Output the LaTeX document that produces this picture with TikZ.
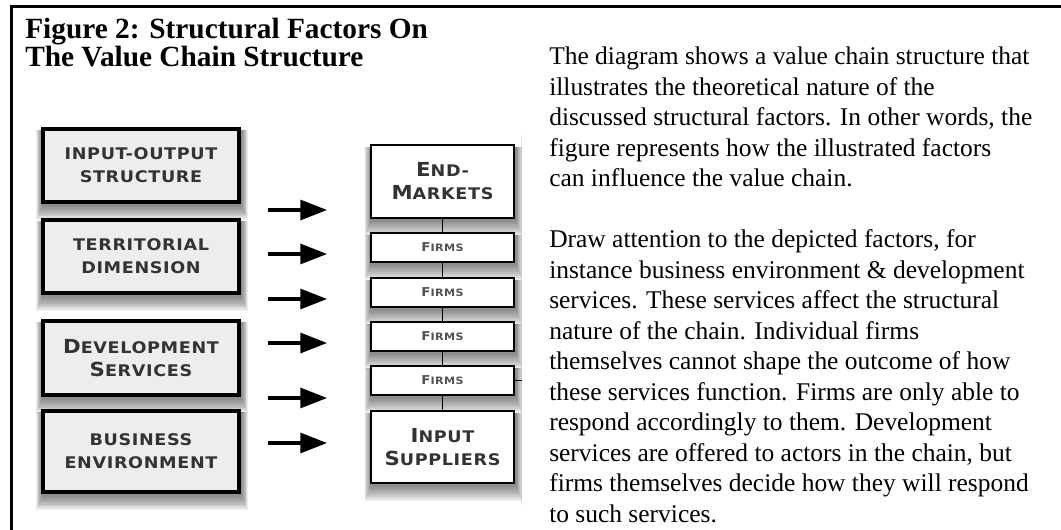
\documentclass[tikz,border=0pt]{standalone}
\usepackage{fontspec}
\setmainfont{Liberation Serif}
\newfontfamily\cpfont{DejaVu Sans}[FakeStretch=1.1,LetterSpace=4]
\usetikzlibrary{arrows.meta,calc}
\pgfdeclarelayer{bg}
\pgfsetlayers{bg,main}
\definecolor{boxtext}{HTML}{333333}
\definecolor{lfill}{HTML}{EDEDED}
\newcommand\Lc[1]{{\fontsize{14.5}{17.3}\selectfont #1}}
\newcommand\Lf[1]{{\fontsize{9.2}{10}\selectfont #1}}
\begin{document}
\begin{tikzpicture}[x=0.75pt,y=-0.75pt,
  frame/.style={line width=1.9pt, line cap=rect},
  lbox/.style={draw=black, line width=2.4pt, fill=lfill, inner sep=0pt,
    minimum width=147pt, align=center, text=boxtext,
    font=\cpfont\bfseries\fontsize{12}{17.3}\selectfont},
  rbox/.style={draw=black, line width=1.4pt, fill=white, inner sep=0pt,
    minimum width=107.25pt, align=center, text=boxtext,
    font=\cpfont\bfseries\fontsize{12}{17.3}\selectfont},
  fbox/.style={rbox, minimum height=21.75pt, text=boxtext!85!white,
    font=\cpfont\bfseries\fontsize{7.6}{9}\selectfont},
  link/.style={line width=1.4pt},
  arr/.style={line width=2.3pt, -{Triangle[length=20pt,width=15pt]}},
  title/.style={anchor=base west, inner sep=0pt, font=\bfseries\fontsize{22}{20}\selectfont},
  body/.style={anchor=base west, inner sep=0pt, font=\fontsize{19.1}{22.9}\selectfont}]
\useasboundingbox (0,0) rectangle (1061,530);

% frame
\draw[frame] (11.3,530) -- (11.3,6.5) -- (1061,6.5);

% title
\node[title] (t1) at (25,39) {Figure 2: Structural Factors On};
\node[title] (t2) at (25,67) {The Value Chain Structure};

% left factor boxes
\node[lbox, minimum height=54.75pt] (io) at (141,165.5) {INPUT-OUTPUT\\STRUCTURE};
\node[lbox, minimum height=54.75pt] (te) at (141,256.5) {TERRITORIAL\\DIMENSION};
\node[lbox, minimum height=55.5pt]  (dv) at (141,358) {\Lc{D}EVELOPMENT\\\Lc{S}ERVICES};
\node[lbox, minimum height=60.75pt] (bu) at (141,451.5) {BUSINESS\\ENVIRONMENT};

% value chain
\node[rbox, minimum height=54.75pt] (em) at (442.5,181.5) {\Lc{E}ND-\\\Lc{M}ARKETS};
\node[fbox] (f1) at (442.5,247.5) {\Lf{F}IRMS};
\node[fbox] (f2) at (442.5,292.5) {\Lf{F}IRMS};
\node[fbox] (f3) at (442.5,336.5) {\Lf{F}IRMS};
\node[fbox] (f4) at (442.5,380.5) {\Lf{F}IRMS};
\node[rbox, minimum height=54pt] (is) at (442.5,447) {\Lc{I}NPUT\\\Lc{S}UPPLIERS};

\draw[link] (em) -- (f1);
\draw[link] (f1) -- (f2);
\draw[link] (f2) -- (f3);
\draw[link] (f3) -- (f4);
\draw[link] (f4) -- (is);
\coordinate (stub) at (522,380.5);
\draw[link] (f4.east) -- (stub);

% arrows
\foreach \yy [count=\i] in {210,254,299,343,398,443}{
  \coordinate (as\i) at (268,\yy);
  \coordinate (ae\i) at (327,\yy);
  \draw[arr] (as\i) -- (ae\i);
}

% shadows and faint edge of the diagram image
\begin{pgfonlayer}{bg}
\draw[black!9, line width=0.8pt] (521.5,135) -- (521.5,505);
\foreach \n in {io,te,dv,bu,em,f1,f2,f3,f4,is}{
  \foreach \k in {1,...,8}{
    \fill[black,opacity=0.07]
      ($(\n.north west)+(-0.8*\k+1,3)$) rectangle ($(\n.south east)+(0.8*\k+1,1.5+1.9*\k)$);
  }
}
\end{pgfonlayer}

% body text
\foreach \t [count=\i from 0] in {
  {The diagram shows a value chain structure that},
  {illustrates the theoretical nature of the},
  {discussed structural factors. In other words, the},
  {figure represents how the illustrated factors},
  {can influence the value chain.}}{
  \node[body] (p\i) at (549,65+30.5*\i) {\t};
}
\foreach \t [count=\i from 0] in {
  {Draw attention to the depicted factors, for},
  {instance business environment \& development},
  {services. These services affect the structural},
  {nature of the chain. Individual firms},
  {themselves cannot shape the outcome of how},
  {these services function. Firms are only able to},
  {respond accordingly to them. Development},
  {services are offered to actors in the chain, but},
  {firms themselves decide how they will respond},
  {to such services.}}{
  \node[body] (q\i) at (549,65+30.5*6+30.5*\i) {\t};
}
\end{tikzpicture}
\end{document}
